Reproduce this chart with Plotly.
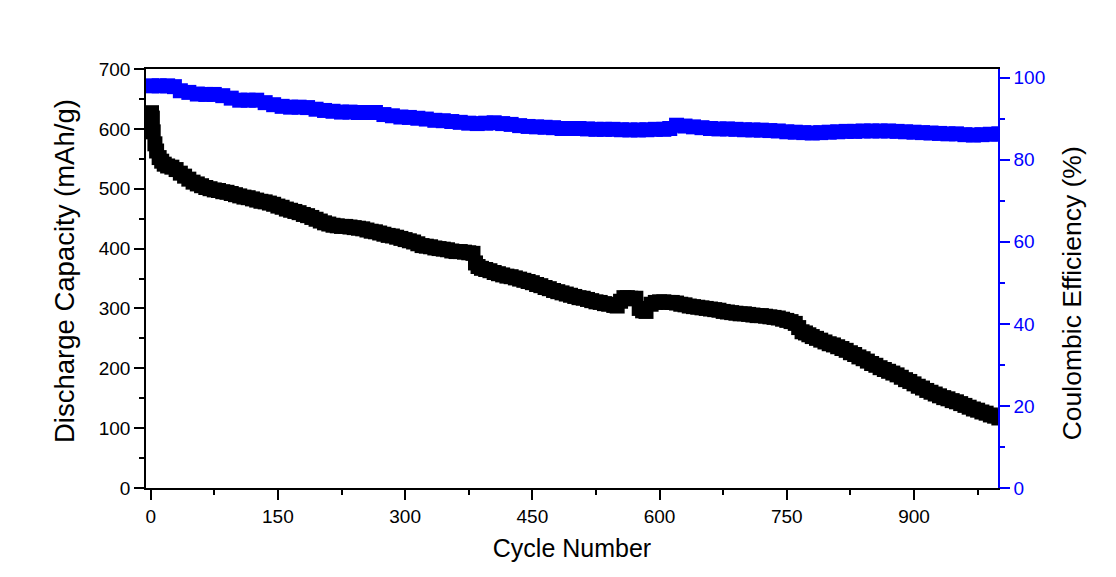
import plotly.graph_objects as go

# Discharge capacity (mAh/g) vs cycle number
cap_cycles = [1, 2, 3, 5, 7, 10, 13, 16, 20, 25, 30, 35, 40, 45, 50, 55, 60, 65, 70, 75,
              80, 85, 90, 95, 100, 105, 110, 115, 120, 125, 130, 135, 140, 145, 150, 155,
              160, 165, 170, 175, 180, 185, 190, 195, 200, 205, 210, 215, 220, 225, 230,
              235, 240, 245, 250, 255, 260, 265, 270, 275, 280, 285, 290, 295, 300, 305,
              310, 315, 320, 325, 330, 335, 340, 345, 350, 355, 360, 365, 370, 375, 380,
              383, 386, 390, 395, 400, 405, 410, 415, 420, 425, 430, 435, 440, 445, 450,
              455, 460, 465, 470, 475, 480, 485, 490, 495, 500, 505, 510, 515, 520, 525,
              530, 535, 540, 546, 550, 554, 558, 562, 566, 570, 572, 576, 580, 584, 590,
              595, 600, 605, 610, 615, 620, 625, 630, 635, 640, 645, 650, 655, 660, 665,
              670, 675, 680, 685, 690, 695, 700, 705, 710, 715, 720, 725, 730, 735, 740,
              745, 750, 755, 760, 764, 768, 772, 776, 780, 785, 790, 795, 800, 805, 810,
              815, 820, 825, 830, 835, 840, 845, 850, 855, 860, 865, 870, 875, 880, 885,
              890, 895, 900, 905, 910, 915, 920, 925, 930, 935, 940, 945, 950, 955, 960,
              965, 970, 975, 980, 985, 990, 995, 1000]
capacity = [627, 618, 595, 575, 563, 552, 546, 541, 538, 536, 532, 526, 521, 516, 511, 508,
            505, 502, 500, 498, 497, 495, 494, 492, 490, 488, 486, 485, 483, 481, 479, 478,
            476, 474, 471, 469, 466, 464, 462, 460, 457, 455, 452, 449, 446, 443, 441, 439,
            438, 437, 437, 436, 435, 434, 433, 431, 429, 428, 426, 424, 422, 421, 419, 417,
            415, 413, 411, 408, 405, 404, 403, 401, 400, 399, 398, 396, 395, 395, 394, 393,
            392, 376, 370, 367, 365, 363, 360, 358, 356, 354, 353, 351, 349, 347, 345, 343,
            340, 338, 335, 333, 330, 328, 326, 324, 322, 320, 318, 317, 315, 313, 311, 310,
            308, 307, 305, 304, 312, 318, 318, 317, 316, 317, 300, 296, 295, 307, 310, 311,
            311, 310, 310, 309, 307, 306, 304, 303, 302, 301, 300, 299, 298, 297, 295, 294,
            293, 292, 291, 291, 290, 289, 288, 288, 287, 286, 285, 284, 282, 280, 278, 275,
            268, 261, 259, 256, 253, 250, 247, 244, 241, 239, 236, 233, 230, 226, 223, 219,
            216, 212, 208, 205, 201, 198, 195, 192, 189, 185, 181, 178, 174, 170, 167, 163,
            160, 157, 154, 151, 149, 146, 144, 141, 138, 135, 132, 130, 127, 125, 122, 120,
            117]

# Coulombic efficiency (%) vs cycle number
ce_cycles = [1, 10, 20, 28, 35, 45, 55, 65, 75, 85, 95, 105, 115, 125, 135, 145, 155, 165,
             175, 185, 195, 205, 215, 225, 235, 245, 255, 265, 275, 285, 295, 305, 315, 325,
             335, 345, 355, 365, 375, 385, 395, 405, 415, 425, 435, 445, 455, 465, 475, 485,
             495, 505, 515, 525, 535, 545, 555, 565, 575, 585, 595, 605, 612, 620, 630, 640,
             650, 660, 670, 680, 690, 700, 710, 720, 730, 740, 750, 760, 770, 780, 790, 800,
             810, 820, 830, 840, 850, 860, 870, 880, 890, 900, 910, 920, 930, 940, 950, 960,
             970, 980, 990, 1000]
ce = [98.0, 98.0, 98.0, 97.8, 96.8, 96.4, 96.0, 95.9, 95.9, 95.6, 95.0, 94.5, 94.5, 94.5,
      93.9, 93.4, 93.0, 92.8, 92.8, 92.7, 92.3, 92.0, 91.8, 91.6, 91.6, 91.5, 91.5, 91.5,
      91.0, 90.7, 90.4, 90.3, 90.1, 89.9, 89.6, 89.5, 89.3, 89.1, 88.9, 88.8, 88.9, 89.0,
      88.8, 88.6, 88.3, 88.1, 88.0, 87.9, 87.8, 87.6, 87.6, 87.6, 87.5, 87.4, 87.4, 87.4,
      87.3, 87.25, 87.25, 87.3, 87.4, 87.4, 87.6, 88.4, 88.2, 88.0, 87.8, 87.6, 87.5, 87.5,
      87.4, 87.3, 87.25, 87.2, 87.1, 87.0, 86.8, 86.7, 86.6, 86.5, 86.6, 86.7, 86.8, 86.9,
      86.9, 87.0, 87.0, 87.0, 87.0, 86.9, 86.8, 86.7, 86.6, 86.5, 86.4, 86.3, 86.3, 86.1,
      86.0, 86.1, 86.2, 86.3]

x_title = "Cycle Number"
y_title = "Discharge Capacity (mAh/g)"
y2_title = "Coulombic Efficiency (%)"

FONT = "Liberation Sans, Arial, sans-serif"
BLUE = "#0000FF"

fig = go.Figure()
fig.add_trace(go.Scatter(
    x=cap_cycles, y=capacity, mode="markers",
    marker=dict(symbol="square", size=15, color="black", line=dict(width=0)),
    showlegend=False, cliponaxis=True))
fig.add_trace(go.Scatter(
    x=ce_cycles, y=ce, mode="markers", yaxis="y2",
    marker=dict(symbol="square", size=15, color=BLUE, line=dict(width=0)),
    showlegend=False, cliponaxis=True))

fig.update_layout(
    width=1116, height=577,
    margin=dict(l=146, r=118, t=69, b=89),
    paper_bgcolor="white", plot_bgcolor="white",
    font=dict(family=FONT, size=19, color="black"),
    xaxis=dict(
        range=[-5.5, 999], tick0=0, dtick=150,
        showgrid=False, zeroline=False,
        showline=True, linecolor="black", linewidth=1.5, mirror=True,
        ticks="outside", ticklen=10, tickwidth=1.5, tickcolor="black",
        minor=dict(dtick=75, tick0=0, ticks="outside", ticklen=5,
                   tickwidth=1.5, tickcolor="black", showgrid=False),
        tickfont=dict(size=19, color="black"),
        title=dict(text=x_title, font=dict(size=25, color="black"), standoff=14),
    ),
    yaxis=dict(
        range=[0, 700], tick0=0, dtick=100,
        showgrid=False, zeroline=False,
        showline=True, linecolor="black", linewidth=1.5,
        ticks="outside", ticklen=10, tickwidth=1.5, tickcolor="black",
        minor=dict(dtick=50, tick0=0, ticks="outside", ticklen=5,
                   tickwidth=1.5, tickcolor="black", showgrid=False),
        tickfont=dict(size=19, color="black"),
    ),
    yaxis2=dict(
        overlaying="y", side="right", anchor="x",
        range=[0, 102.1], tick0=0, dtick=20,
        showgrid=False, zeroline=False,
        showline=True, linecolor=BLUE, linewidth=1.5,
        ticks="outside", ticklen=10, tickwidth=1.5, tickcolor=BLUE,
        minor=dict(dtick=10, tick0=0, ticks="outside", ticklen=5,
                   tickwidth=1.5, tickcolor=BLUE, showgrid=False),
        tickfont=dict(size=19, color=BLUE),
    ),
    annotations=[
        dict(text=y_title, xref="paper", yref="paper", x=-0.095, y=0.518,
             xanchor="center", yanchor="middle", textangle=-90, showarrow=False,
             font=dict(family=FONT, size=27.5, color="black")),
        dict(text=y2_title, xref="paper", yref="paper", x=1.087, y=0.465,
             xanchor="center", yanchor="middle", textangle=-90, showarrow=False,
             font=dict(family=FONT, size=26.5, color="black")),
    ],
)

fig.write_html("out.html")
